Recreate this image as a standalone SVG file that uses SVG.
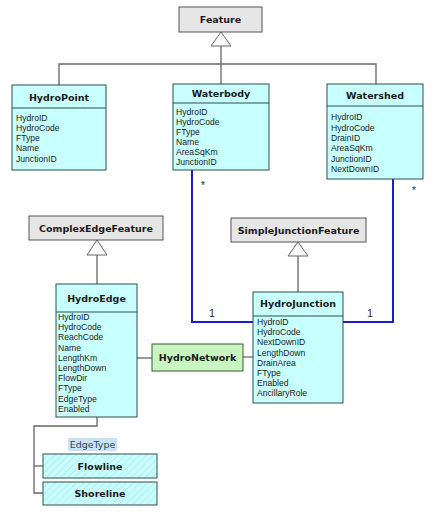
<svg xmlns="http://www.w3.org/2000/svg" width="433" height="525" viewBox="0 0 433 525">
<style>
.cls{fill:#c8ffff;stroke:#2f4f4f;stroke-width:1}
.abs{fill:#e6e6e6;stroke:#555;stroke-width:1}
.net{fill:#c8f5c0;stroke:#3a5a3a;stroke-width:1}
.sep{stroke:#2f4f4f;stroke-width:1}
.t{font-family:"DejaVu Sans",Verdana,sans-serif;font-weight:bold;font-size:9.5px;fill:#1a1a1a;text-anchor:middle}
.a{font-family:"Liberation Sans",Arial,sans-serif;font-size:8.6px;fill:#222}
.g{fill:none;stroke:#666;stroke-width:1.3}
.b{fill:none;stroke:#1c1cc8;stroke-width:2}
.tri{fill:#fff;stroke:#666;stroke-width:1}
.lbl{font-family:"Liberation Sans",Arial,sans-serif;font-size:10px;fill:#222;text-anchor:middle}
</style>
<defs>
<pattern id="hatch" width="5" height="5" patternUnits="userSpaceOnUse" patternTransform="rotate(45)">
<rect width="5" height="5" fill="#c8ffff"/>
<line x1="0" y1="0" x2="0" y2="5" stroke="#a8e8ee" stroke-width="1.5"/>
</pattern>
</defs>
<rect width="433" height="525" fill="#fff"/>

<g id="connectors">
<polyline class="g" points="221,46 221,84"/>
<polyline class="g" points="59,85 59,64 376,64 376,84"/>
<polygon class="tri" points="221,32 211,46 231,46"/>
<polyline class="g" points="97,255 97,284"/>
<polygon class="tri" points="97,240 87,255 107,255"/>
<polyline class="g" points="298,256 298,292"/>
<polygon class="tri" points="298,242 288,256 308,256"/>
<line class="g" x1="137" y1="358" x2="152" y2="358"/>
<line class="g" x1="243" y1="357" x2="253" y2="357"/>
<polyline class="g" points="97,417 97,426 34,426 34,493 43,493"/>
<line class="g" x1="34" y1="466" x2="43" y2="466"/>
<polyline class="b" points="192,170 192,322 253,322"/>
<polyline class="b" points="393,179 393,322 343,322"/>
<text class="lbl" x="203" y="189">*</text>
<text class="lbl" x="414" y="194">*</text>
<text class="lbl" x="212" y="317">1</text>
<text class="lbl" x="370" y="317">1</text>
</g>

<g id="Feature">
<rect class="abs" x="179" y="7" width="83" height="25"/>
<text class="t" x="220.5" y="23">Feature</text>
</g>

<g id="HydroPoint">
<rect class="cls" x="12" y="85" width="94" height="85"/>
<line class="sep" x1="12" y1="108" x2="106" y2="108"/>
<text class="t" x="59" y="100.5">HydroPoint</text>
<text class="a" x="16" y="121">HydroID</text>
<text class="a" x="16" y="131">HydroCode</text>
<text class="a" x="16" y="141">FType</text>
<text class="a" x="16" y="151">Name</text>
<text class="a" x="16" y="161.5">JunctionID</text>
</g>

<g id="Waterbody">
<rect class="cls" x="173" y="84" width="96" height="86"/>
<line class="sep" x1="173" y1="103" x2="269" y2="103"/>
<text class="t" x="221" y="97">Waterbody</text>
<text class="a" x="176" y="115">HydroID</text>
<text class="a" x="176" y="125">HydroCode</text>
<text class="a" x="176" y="135">FType</text>
<text class="a" x="176" y="145">Name</text>
<text class="a" x="176" y="155">AreaSqKm</text>
<text class="a" x="176" y="165">JunctionID</text>
</g>

<g id="Watershed">
<rect class="cls" x="327" y="84" width="96" height="95"/>
<line class="sep" x1="327" y1="106" x2="423" y2="106"/>
<text class="t" x="375" y="99">Watershed</text>
<text class="a" x="331" y="120">HydroID</text>
<text class="a" x="331" y="130.5">HydroCode</text>
<text class="a" x="331" y="141">DrainID</text>
<text class="a" x="331" y="151">AreaSqKm</text>
<text class="a" x="331" y="161.5">JunctionID</text>
<text class="a" x="331" y="172">NextDownID</text>
</g>

<g id="ComplexEdgeFeature">
<rect class="abs" x="29" y="216" width="134" height="24"/>
<text class="t" x="96" y="231.5">ComplexEdgeFeature</text>
</g>

<g id="SimpleJunctionFeature">
<rect class="abs" x="231" y="218" width="135" height="24"/>
<text class="t" x="298.5" y="233.5">SimpleJunctionFeature</text>
</g>

<g id="HydroEdge">
<rect class="cls" x="56" y="284" width="81" height="133"/>
<line class="sep" x1="56" y1="312" x2="137" y2="312"/>
<text class="t" x="96.5" y="301.5">HydroEdge</text>
<text class="a" x="58" y="320">HydroID</text>
<text class="a" x="58" y="330.2">HydroCode</text>
<text class="a" x="58" y="340.4">ReachCode</text>
<text class="a" x="58" y="350.6">Name</text>
<text class="a" x="58" y="360.8">LengthKm</text>
<text class="a" x="58" y="371">LengthDown</text>
<text class="a" x="58" y="381.2">FlowDir</text>
<text class="a" x="58" y="391.4">FType</text>
<text class="a" x="58" y="401.6">EdgeType</text>
<text class="a" x="58" y="411.8">Enabled</text>
</g>

<g id="HydroNetwork">
<rect class="net" x="152" y="344" width="91" height="27"/>
<text class="t" x="197.5" y="360.5">HydroNetwork</text>
</g>

<g id="HydroJunction">
<rect class="cls" x="253" y="292" width="90" height="111"/>
<line class="sep" x1="253" y1="316" x2="343" y2="316"/>
<text class="t" x="298" y="306.5">HydroJunction</text>
<text class="a" x="257" y="325">HydroID</text>
<text class="a" x="257" y="335.2">HydroCode</text>
<text class="a" x="257" y="345.4">NextDownID</text>
<text class="a" x="257" y="355.6">LengthDown</text>
<text class="a" x="257" y="365.8">DrainArea</text>
<text class="a" x="257" y="376">FType</text>
<text class="a" x="257" y="386.2">Enabled</text>
<text class="a" x="257" y="396.4">AncillaryRole</text>
</g>

<g id="EdgeType">
<rect x="68" y="438" width="49" height="13" fill="#c6e4f6"/>
<text x="92.5" y="448" font-family="DejaVu Sans,Verdana,sans-serif" font-size="9.5" fill="#334455" text-anchor="middle">EdgeType</text>
</g>

<g id="Flowline">
<rect x="43" y="454" width="114" height="24" fill="url(#hatch)" stroke="#2f4f4f"/>
<text class="t" x="100" y="469.5">Flowline</text>
</g>

<g id="Shoreline">
<rect x="43" y="482" width="114" height="23" fill="url(#hatch)" stroke="#2f4f4f"/>
<text class="t" x="100" y="497">Shoreline</text>
</g>
</svg>
